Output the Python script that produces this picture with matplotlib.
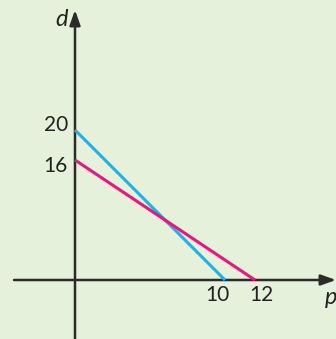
import matplotlib
matplotlib.use("Agg")
import matplotlib.pyplot as plt

# Two linear demand lines, given by their intercepts on each axis
d_intercepts = [20, 16]
p_intercepts = [10, 12]
line_colors = ["#1bb3ea", "#e6187f"]

d_tick_labels = ["20", "16"]
p_tick_labels = ["10", "12"]

bg = "#e5f1da"
axis_color = "#2b2b2b"
text_color = "#222222"

W, H = 336, 339
fig = plt.figure(figsize=(W / 100, H / 100), dpi=100, facecolor=bg)
ax = fig.add_axes([0, 0, 1, 1], facecolor=bg)

# pixel scale: 15 px per p unit, 7.5 px per d unit, origin at (75, 280)
x0, y0 = 75, 280
sx, sy = 15.0, 7.5
ax.set_xlim(-x0 / sx, (W - x0) / sx)
ax.set_ylim(-(H - y0) / sy, y0 / sy)
ax.axis("off")


def px(x, y):
    """Convert a pixel position (from top-left) to data coordinates."""
    return (x - x0) / sx, (y0 - y) / sy


font = "Lato"

# axes with arrowheads
arrow = dict(arrowstyle="-|>,head_length=0.9,head_width=0.32", color=axis_color,
             lw=1.8, shrinkA=0, shrinkB=0)
ax.annotate("", xy=px(75, 10), xytext=px(75, H), arrowprops=arrow)
ax.annotate("", xy=px(W, 280), xytext=px(14, 280), arrowprops=arrow)

for d, p, c in zip(d_intercepts, p_intercepts, line_colors):
    ax.plot([0, p], [d, 0], color=c, lw=2.2, solid_capstyle="butt", zorder=3)

# tick labels on the d axis
for lab, ypix in zip(d_tick_labels, [125, 166]):
    ax.text(*px(68, ypix), lab, ha="right", va="center", fontsize=15,
            family=font, color=text_color)
# tick labels on the p axis
for lab, xpix in zip(p_tick_labels, [217, 261.5]):
    ax.text(*px(xpix, 295), lab, ha="center", va="center", fontsize=15,
            family=font, color=text_color)

ax.text(*px(62, 19), "d", ha="center", va="center",
        fontsize=17, family=font, style="italic", color=text_color)
ax.text(*px(331, 297), "p", ha="center", va="center",
        fontsize=17, family=font, style="italic", color=text_color)

fig.savefig("out.png", dpi=100, facecolor=bg)
